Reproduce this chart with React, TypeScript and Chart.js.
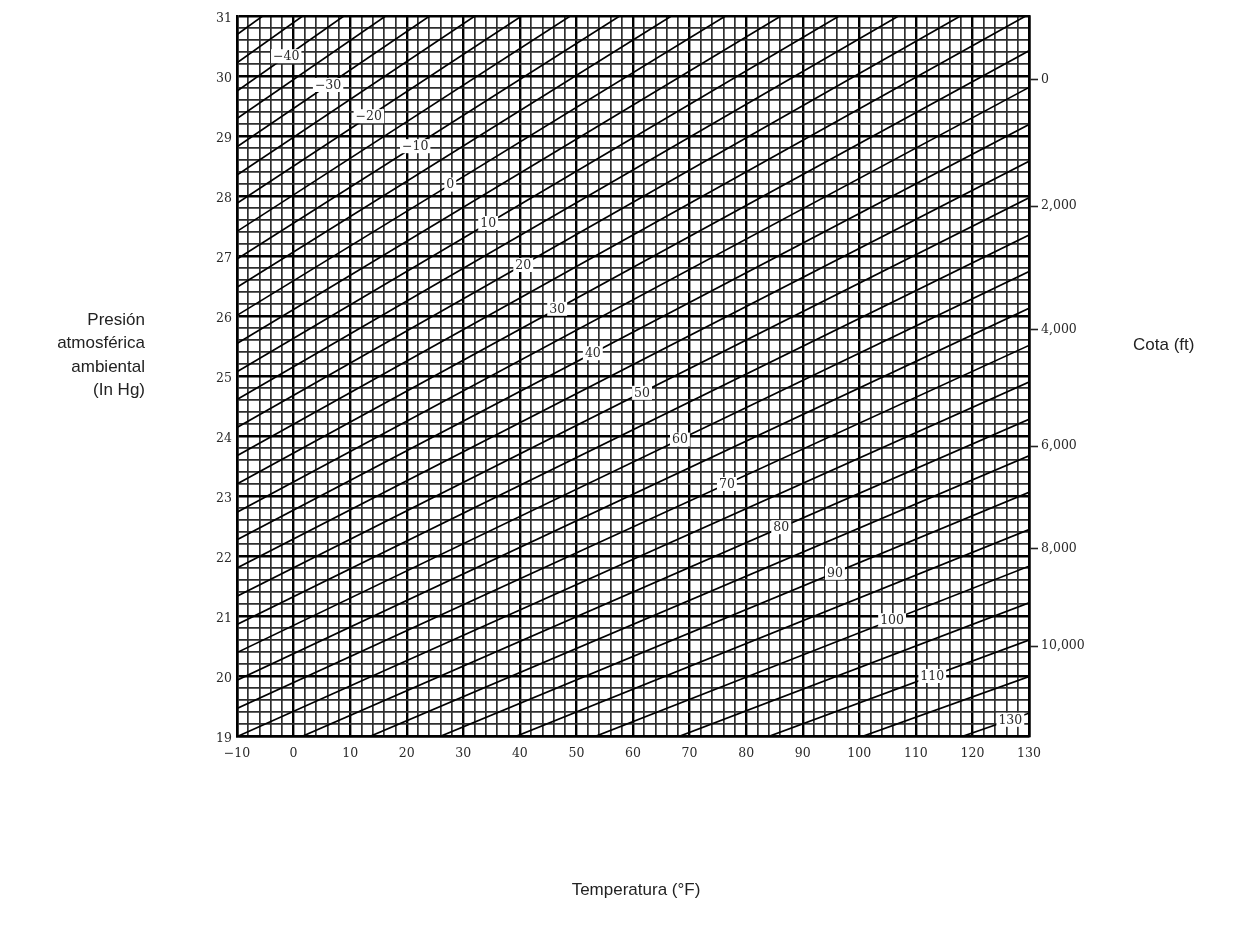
import React, { useEffect, useRef } from "react";
import { Chart, registerables } from "chart.js";

Chart.register(...registerables);

// ---------- data ----------
const tempTickLabels = [-10, 0, 10, 20, 30, 40, 50, 60, 70, 80, 90, 100, 110, 120, 130];
const pressureTickLabels = [19, 20, 21, 22, 23, 24, 25, 26, 27, 28, 29, 30, 31];
const altitudeLabels = ["0", "2,000", "4,000", "6,000", "8,000", "10,000"];
const altitudePressures = [29.94, 27.83, 25.77, 23.83, 22.12, 20.5];

// diagonal lines: pressure (in Hg) read at T = -10 °F and (extended) at T = 130 °F
const diagonalIds = [
  -50, -45, -40, -35, -30, -25, -20, -15, -10, -5, 0, 5, 10, 15, 20, 25, 30, 35,
  40, 45, 50, 55, 60, 65, 70, 75, 80, 85, 90, 95, 100, 105, 110, 115, 120,
];
const diagonalStartP = [
  30.69, 30.22, 29.75, 29.29, 28.82, 28.35, 27.88, 27.41, 26.95, 26.48, 26.01,
  25.54, 25.07, 24.61, 24.14, 23.67, 23.2, 22.73, 22.27, 21.8, 21.33, 20.86,
  20.39, 19.93, 19.46, 18.99, 18.52, 18.05, 17.59, 17.12, 16.65, 16.18, 15.71,
  15.25, 14.78,
];
const diagonalEndP = [
  40.24, 39.62, 39.01, 38.4, 37.78, 37.17, 36.56, 35.94, 35.33, 34.72, 34.1,
  33.49, 32.87, 32.26, 31.65, 31.03, 30.42, 29.81, 29.19, 28.58, 27.97, 27.35,
  26.74, 26.13, 25.51, 24.9, 24.28, 23.67, 23.06, 22.44, 21.83, 21.22, 20.6,
  19.99, 19.38,
];

// labels written on the diagonal lines
const curveLabelTexts = [
  "−40", "−30", "−20", "−10", "0", "10", "20", "30", "40", "50", "60", "70",
  "80", "90", "100", "110", "130",
];
const curveLabelT = [
  -1.3, 6.1, 13.3, 21.5, 27.7, 34.4, 40.6, 46.6, 52.9, 61.6, 68.3, 76.6, 86.2,
  95.7, 105.8, 112.9, 126.7,
];
const curveLabelP = [
  30.33, 29.85, 29.33, 28.83, 28.19, 27.55, 26.85, 26.12, 25.38, 24.72, 23.94,
  23.2, 22.48, 21.72, 20.93, 20.0, 19.27,
];

const X_MIN = -10;
const X_MAX = 130;
const Y_MIN = 19;
const Y_MAX = 31;
const X_MINOR = 2;
const Y_MINOR = 0.2;

const fmtNum = (v: number) => (v < 0 ? "−" + Math.abs(v) : String(v));

const tickFont = { family: '"DejaVu Serif", "Liberation Serif", serif', size: 12.5 };
const tickColor = "#2a2a2a";

const titlesPlugin = {
  id: "titles",
  afterDraw(chart: any) {
    const ctx = chart.ctx;
    ctx.save();
    ctx.fillStyle = "#222";
    ctx.font = '17px "Liberation Sans", Arial, sans-serif';
    ctx.textBaseline = "middle";
    ctx.textAlign = "right";
    const leftLines = ["Presión", "atmosférica", "ambiental", "(In Hg)"];
    leftLines.forEach((t, i) => ctx.fillText(t, 145, 320 + i * 23.5));
    ctx.textAlign = "left";
    ctx.fillText("Cota (ft)", 1133, 345);
    ctx.textAlign = "center";
    ctx.fillText("Temperatura (°F)", 636, 890);
    ctx.restore();
  },
};

const curveLabelPlugin = {
  id: "curveLabels",
  afterDatasetsDraw(chart: any) {
    const ctx = chart.ctx;
    const xs = chart.scales.x;
    const ys = chart.scales.y;
    ctx.save();
    ctx.font = '12.5px "DejaVu Serif", "Liberation Serif", serif';
    ctx.textAlign = "center";
    ctx.textBaseline = "middle";
    curveLabelTexts.forEach((t, i) => {
      const px = xs.getPixelForValue(curveLabelT[i]);
      const py = ys.getPixelForValue(curveLabelP[i]);
      const w = ctx.measureText(t).width + 4;
      ctx.fillStyle = "#fff";
      ctx.fillRect(px - w / 2, py - 7, w, 14);
      ctx.fillStyle = "#2a2a2a";
      ctx.fillText(t, px, py + 0.5);
    });
    ctx.restore();
  },
};

export default function App() {
  const canvasRef = useRef<HTMLCanvasElement | null>(null);

  useEffect(() => {
    if (!canvasRef.current) return;
    const datasets = diagonalIds.map((id, i) => ({
      label: String(id),
      data: [
        { x: X_MIN, y: diagonalStartP[i] },
        { x: X_MAX, y: diagonalEndP[i] },
      ],
      borderColor: "#000",
      borderWidth: 1.7,
      pointRadius: 0,
      fill: false,
      tension: 0,
    }));

    const isMajorX = (v: number) => tempTickLabels.includes(v);
    const isMajorY = (v: number) => pressureTickLabels.includes(v);

    const chart = new Chart(canvasRef.current, {
      type: "line",
      data: { datasets },
      plugins: [curveLabelPlugin, titlesPlugin],
      options: {
        animation: false,
        responsive: false,
        devicePixelRatio: 1,
        layout: { padding: { top: 16, left: 0, right: 0, bottom: 0 } },
        plugins: { legend: { display: false }, tooltip: { enabled: false } },
        scales: {
          x: {
            type: "linear",
            min: X_MIN,
            max: X_MAX,
            afterBuildTicks: (s: any) => {
              const t = [];
              for (let v = X_MIN; v <= X_MAX; v += X_MINOR) t.push({ value: v });
              s.ticks = t;
            },
            afterFit: (s: any) => {
              s.height = 200;
            },
            ticks: {
              autoSkip: false,
              maxRotation: 0,
              minRotation: 0,
              padding: 10,
              font: tickFont,
              color: tickColor,
              callback: (v: any) => (isMajorX(v) ? fmtNum(v) : ""),
            },
            grid: {
              drawTicks: false,
              color: (c: any) => (c.tick && isMajorX(c.tick.value) ? "#000" : "#2e2e2e"),
              lineWidth: (c: any) => (c.tick && isMajorX(c.tick.value) ? 2.4 : 1.7),
            },
            border: { display: true, color: "#000", width: 2.6 },
          },
          y: {
            type: "linear",
            position: "left",
            min: Y_MIN,
            max: Y_MAX,
            afterBuildTicks: (s: any) => {
              const t = [];
              const n = Math.round((Y_MAX - Y_MIN) / Y_MINOR);
              for (let i = 0; i <= n; i++) t.push({ value: Math.round((Y_MIN + i * Y_MINOR) * 10) / 10 });
              s.ticks = t;
            },
            afterFit: (s: any) => {
              s.width = 237;
            },
            ticks: {
              autoSkip: false,
              padding: 5,
              labelOffset: 3,
              font: tickFont,
              color: tickColor,
              callback: (v: any) => (isMajorY(v) ? String(v) : ""),
            },
            grid: {
              drawTicks: false,
              color: (c: any) => (c.tick && isMajorY(c.tick.value) ? "#000" : "#2e2e2e"),
              lineWidth: (c: any) => (c.tick && isMajorY(c.tick.value) ? 2.4 : 1.7),
            },
            border: { display: true, color: "#000", width: 2.6 },
          },
          y2: {
            type: "linear",
            position: "right",
            min: Y_MIN,
            max: Y_MAX,
            afterBuildTicks: (s: any) => {
              s.ticks = altitudePressures.map((v) => ({ value: v }));
            },
            afterFit: (s: any) => {
              s.width = 222;
            },
            ticks: {
              autoSkip: false,
              padding: 3,
              font: tickFont,
              color: tickColor,
              callback: (_v: any, i: number) => altitudeLabels[i],
            },
            grid: {
              drawOnChartArea: false,
              drawTicks: true,
              tickLength: 9,
              tickColor: "#222",
              tickWidth: 1.6,
            },
            border: { display: true, color: "#000", width: 2.6 },
          },
        },
      } as any,
    });
    return () => chart.destroy();
  }, []);

  return (
    <div style={{ position: "fixed", left: 0, top: 0, width: 1251, height: 936, background: "#fff" }}>
      <canvas ref={canvasRef} width={1251} height={936} style={{ display: "block" }} />
    </div>
  );
}
